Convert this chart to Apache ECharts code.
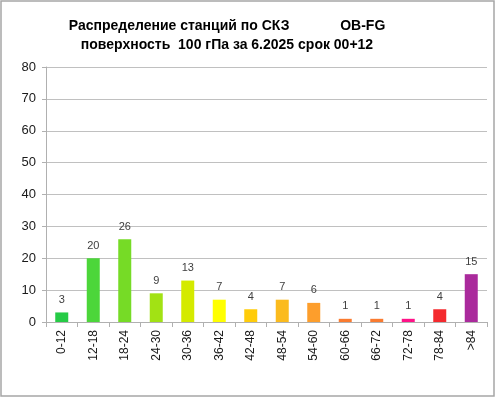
<!DOCTYPE html>
<html lang="ru">
<head>
    <meta charset="UTF-8">
    <title>Распределение станций по СКЗ</title>
    <script src="https://cdn.jsdelivr.net/npm/echarts@6/dist/echarts.min.js"></script>
    <style>
        html, body { margin: 0; padding: 0; background: #fff; }
        #main { width: 496px; height: 399px; }
    </style>
</head>
<body>
<div id="main"></div>
<script>
    // интервалы СКЗ
    var categories = ['0-12', '12-18', '18-24', '24-30', '30-36', '36-42', '42-48',
        '48-54', '54-60', '60-66', '66-72', '72-78', '78-84', '>84'];
    // число станций
    var counts = [3, 20, 26, 9, 13, 7, 4, 7, 6, 1, 1, 1, 4, 15];
    // цвет столбиков
    var barColors = ['#26cb46', '#4cd63a', '#76db26', '#a2e214', '#d4ea00', '#ffff00', '#ffcc0a',
        '#fbbb1e', '#fd9e2c', '#fa7b30', '#fa7b30', '#ff1288', '#f42a2e', '#aa2a9c'];
    var yTicks = { min: 0, max: 80, interval: 10 };

    var myChart = echarts.init(document.getElementById('main'));

    var barData = [];
    for (var i = 0; i < counts.length; i++) {
        barData.push({ value: counts[i], itemStyle: { color: barColors[i] } });
    }

    var option = {
        animation: false,
        textStyle: { fontFamily: 'Liberation Sans' },
        title: {
            text: 'Распределение станций по СКЗ             OB-FG\nповерхность  100 гПа за 6.2025 срок 00+12',
            left: 222,
            top: 12,
            textAlign: 'center',
            textStyle: {
                fontFamily: 'Liberation Sans',
                fontSize: 14,
                fontWeight: 'bold',
                color: '#000',
                lineHeight: 19
            }
        },
        graphic: [{
            type: 'rect',
            shape: { x: 1, y: 1, width: 493, height: 395 },
            style: { fill: 'none', stroke: '#a6a6a6', lineWidth: 1.5 },
            silent: true
        }],
        grid: { left: 46, right: 9, top: 67, bottom: 77 },
        xAxis: {
            type: 'category',
            data: categories,
            axisLine: { lineStyle: { color: '#b0b0b0', width: 1 } },
            axisTick: { show: true, length: 5, lineStyle: { color: '#b0b0b0' } },
            axisLabel: {
                rotate: 90,
                margin: 8,
                fontSize: 12,
                color: '#1a1a1a',
                interval: 0
            }
        },
        yAxis: {
            type: 'value',
            min: yTicks.min,
            max: yTicks.max,
            interval: yTicks.interval,
            axisLine: { show: true, lineStyle: { color: '#b0b0b0' } },
            axisTick: { show: true, length: 4, lineStyle: { color: '#b0b0b0' } },
            axisLabel: { fontSize: 13, color: '#1a1a1a', margin: 10 },
            splitLine: { lineStyle: { color: '#c0c0c0', width: 1.2 } }
        },
        series: [{
            type: 'bar',
            data: barData,
            barWidth: 13,
            label: {
                show: true,
                position: 'top',
                distance: 7,
                fontSize: 11,
                color: '#404040'
            }
        }]
    };
    myChart.setOption(option);
</script>
</body>
</html>
